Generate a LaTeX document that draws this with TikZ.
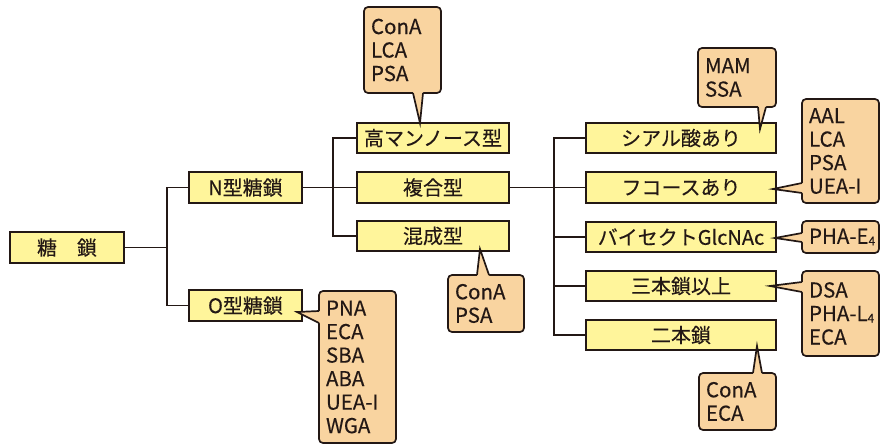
\documentclass[tikz,border=0pt]{standalone}
\usepackage{fontspec}
\setmainfont[FakeBold=0.3]{Noto Sans CJK JP}
\definecolor{ink}{HTML}{231815}
\definecolor{boxy}{HTML}{FFF59B}
\definecolor{peach}{HTML}{F9D4A0}
\newcommand\callptr[5]{%
  \fill[peach] #4 -- #1 -- #2 -- #3 -- #5 -- cycle;
  \draw[line join=miter] #1 -- #2 -- #3;}
\newcommand\subfour{\raisebox{-1.5pt}{\fontsize{12}{12}\selectfont 4}}
\begin{document}
\begin{tikzpicture}[x=1pt,y=-1pt,color=ink,line width=1.7pt,
  box/.style={draw, fill=boxy, minimum height=30.5pt, inner sep=0pt,
    font=\fontsize{20}{22}\selectfont},
  callbox/.style={draw, fill=peach, rounded corners=4pt, align=left,
    inner xsep=7pt, inner ysep=0pt, font=\fontsize{20.5}{23.5}\selectfont}]
\useasboundingbox (0,0) rectangle (885,445);
% boxes
\node[box, minimum width=114pt] (sugar) at (67,247.5) {糖　鎖};
\node[box, minimum width=113pt] (N) at (245.5,187.5) {N型糖鎖};
\node[box, minimum width=113pt] (O) at (245.5,305.5) {O型糖鎖};
\node[box, minimum width=152pt] (high) at (433,138) {高マンノース型};
\node[box, minimum width=152pt] (complex) at (433,187.5) {複合型};
\node[box, minimum width=152pt] (hybrid) at (433,236) {混成型};
\node[box, minimum width=190pt] (sia) at (681,138) {シアル酸あり};
\node[box, minimum width=190pt] (fuc) at (681,187.5) {フコースあり};
\node[box, minimum width=190pt] (bis) at (681,237) {バイセクトGlcNAc};
\node[box, minimum width=190pt] (tri) at (681,286) {三本鎖以上};
\node[box, minimum width=190pt] (bi) at (681,335) {二本鎖};
% connectors
\coordinate (j1) at (167,247.5);
\coordinate (j2) at (333,187.5);
\coordinate (j3) at (554,187.5);
\draw (sugar.east) -- (j1);
\draw (N.west) -| (j1) |- (O.west);
\draw (N.east) -- (complex.west);
\draw (high.west) -| (j2) |- (hybrid.west);
\draw (complex.east) -- (fuc.west);
\draw (sia.west) -| (j3) |- (bi.west);
\draw (bis.west) -| (j3);
\draw (tri.west) -| (j3);
% callouts
\node[callbox, text width=63pt, minimum height=86pt] (c1) at (402.5,50) {ConA\\LCA\\PSA};
\node[callbox, text width=62pt, minimum height=57pt] (c2) at (486,303.5) {ConA\\PSA};
\node[callbox, text width=63pt, minimum height=152pt] (c3) at (357.5,367) {PNA\\ECA\\SBA\\ABA\\UEA-I\\WGA};
\node[callbox, text width=64pt, minimum height=59pt] (c4) at (737,77.5) {MAM\\SSA};
\node[callbox, text width=63pt, minimum height=104pt] (c5) at (840.5,151) {AAL\\LCA\\PSA\\UEA-I};
\node[callbox, text width=63pt, minimum height=32pt] (c6) at (840.5,237) {\mbox{PHA-E\subfour}};
\node[callbox, text width=63pt, minimum height=85pt] (c7) at (840.5,313.5) {DSA\\\mbox{PHA-L\subfour}\\ECA};
\node[callbox, text width=63pt, minimum height=57pt] (c8) at (737.5,401.5) {ConA\\ECA};
% pointers
\callptr{(413,93)}{(420,123)}{(423,93)}{(413,90)}{(423,90)}
\callptr{(477,275)}{(480,249)}{(489,275)}{(477,278)}{(489,278)}
\callptr{(319,311)}{(297,312)}{(319,323)}{(322,311)}{(322,323)}
\callptr{(758,107)}{(760,129)}{(766,107)}{(758,104)}{(766,104)}
\callptr{(802,183)}{(773,189)}{(802,193)}{(805,183)}{(805,193)}
\callptr{(802,233)}{(775,238)}{(802,242)}{(805,233)}{(805,242)}
\callptr{(802,282)}{(770,286)}{(802,292)}{(805,282)}{(805,292)}
\callptr{(753,373)}{(757,346)}{(762,373)}{(753,376)}{(762,376)}
\end{tikzpicture}
\end{document}
